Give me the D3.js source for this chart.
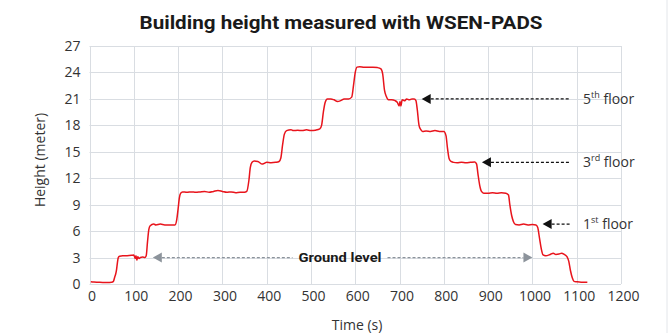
<!DOCTYPE html>
<html><head><meta charset="utf-8">
<script src="https://cdn.jsdelivr.net/npm/d3@7"></script>
<style>html,body{margin:0;padding:0;background:#fff;}svg{display:block;}</style>
</head><body>
<svg id="c" width="668" height="333"></svg>
<script>
const title = "Building height measured with WSEN-PADS";
const xTicks = [0,100,200,300,400,500,600,700,800,900,1000,1100,1200];
const yTicks = [0,3,6,9,12,15,18,21,24,27];
const timeS = [3,10,20,30,40,50,54,57,59,61,63,65,68,75,85,95,100,103,105,107,109,112,115,120,125,128,131,134,137,145,150,160,170,180,193,197,200,203,206,210,220,230,240,250,260,270,280,290,300,310,320,330,340,350,355,360,363,367,372,380,390,395,400,410,420,428,432,436,440,445,455,460,470,480,490,500,510,520,524,528,532,537,545,552,560,567,575,585,592,596,600,604,610,620,630,640,650,658,662,666,670,675,682,690,695,699,701,703,706,712,716,722,728,733,737,740,744,748,752,760,770,780,790,800,805,808,812,816,822,830,840,850,860,870,874,877,881,885,890,900,910,920,930,940,946,949,953,957,962,970,980,990,1000,1008,1012,1016,1020,1024,1030,1040,1047,1053,1060,1066,1072,1078,1082,1086,1090,1094,1100,1110,1124];
const heightM = [0.25,0.22,0.2,0.18,0.18,0.2,0.3,0.8,1.1,1.6,2.4,3.0,3.15,3.2,3.2,3.25,3.3,2.9,3.2,2.7,3.1,2.9,3.0,3.05,3.0,3.2,4.8,6.2,6.6,6.8,6.7,6.8,6.7,6.7,6.7,7.3,8.5,9.8,10.3,10.45,10.4,10.45,10.4,10.45,10.5,10.4,10.5,10.6,10.5,10.4,10.45,10.35,10.4,10.4,10.5,11.8,13.2,13.8,13.95,13.9,13.6,13.7,13.8,13.75,13.8,13.9,14.3,15.8,17.0,17.4,17.5,17.4,17.45,17.4,17.5,17.4,17.45,17.6,18.0,19.5,20.6,21.0,21.0,20.9,20.7,20.8,21.0,21.0,21.2,22.5,24.0,24.6,24.65,24.6,24.6,24.6,24.55,24.4,23.8,22.0,21.3,20.9,20.9,20.8,20.6,20.2,20.7,20.2,20.9,20.8,21.0,20.9,21.0,21.0,20.8,19.8,18.0,17.5,17.3,17.35,17.3,17.4,17.3,17.3,16.8,15.5,14.2,13.9,13.8,13.75,13.8,13.75,13.8,13.85,13.6,12.5,11.2,10.5,10.3,10.3,10.35,10.3,10.35,10.3,10.1,9.0,7.8,7.1,6.75,6.7,6.8,6.7,6.75,6.7,6.4,5.2,4.0,3.3,3.2,3.35,3.5,3.35,3.4,3.5,3.35,3.1,2.6,1.5,0.7,0.3,0.25,0.2,0.2];
const floorNums = ["5","3","1"];
const floorSups = ["th","rd","st"];
const floorTipT = [750,886,1023];
const floorH = [21,13.8,6.8];
const floorTailT = 1085;
const groundLabel = "Ground level";
const groundH = 3;
const groundTipsT = [143,1000];

const svg = d3.select("#c");
const m = {l:89.5, r:621, t:46, b:284};
const x = d3.scaleLinear().domain([0,1200]).range([m.l,m.r]);
const y = d3.scaleLinear().domain([0,27]).range([m.b,m.t]);
const font = "'Open Sans', sans-serif";

svg.append("line").attr("x1",667).attr("x2",667).attr("y1",0).attr("y2",333).attr("stroke","#e3e6ea").attr("stroke-width",1);

// grid
const g = svg.append("g");
g.selectAll(".vg").data(xTicks).join("line")
 .attr("x1",d=>Math.round(x(d))+0.5).attr("x2",d=>Math.round(x(d))+0.5)
 .attr("y1",m.t).attr("y2",m.b).attr("stroke","#d9dde2").attr("stroke-width",1);
g.selectAll(".hg").data(yTicks).join("line")
 .attr("y1",d=>Math.round(y(d))+0.5).attr("y2",d=>Math.round(y(d))+0.5)
 .attr("x1",m.l).attr("x2",m.r).attr("stroke","#d9dde2").attr("stroke-width",1);

// axes labels via d3 axes
const xa = svg.append("g").attr("transform",`translate(0,${m.b})`)
 .call(d3.axisBottom(x).tickValues(xTicks).tickFormat(d3.format("d")).tickSize(0).tickPadding(7));
xa.select(".domain").remove();
xa.selectAll("text").attr("font-family",font).attr("font-size",14).attr("fill","#333").attr("dx",2);
const ya = svg.append("g").attr("transform",`translate(${m.l},0)`)
 .call(d3.axisLeft(y).tickValues(yTicks).tickFormat(d3.format("d")).tickSize(0).tickPadding(9));
ya.select(".domain").remove();
ya.selectAll("text").attr("font-family",font).attr("font-size",14).attr("fill","#333");

svg.append("text").attr("x",357).attr("y",330).attr("text-anchor","middle")
 .attr("font-family",font).attr("font-size",14).attr("fill","#333").text("Time (s)");
svg.append("text").attr("transform","translate(45,160) rotate(-90)").attr("text-anchor","middle")
 .attr("font-family",font).attr("font-size",14).attr("fill","#333").text("Height (meter)");

svg.append("text").attr("x",341).attr("y",29).attr("text-anchor","middle")
 .attr("font-family","Roboto, sans-serif").attr("font-weight","bold").attr("font-size",18.5)
 .attr("fill","#1a1a1a").attr("textLength",403).attr("lengthAdjust","spacingAndGlyphs").text(title);

// data line
const pts = timeS.map((t,i)=>[t,heightM[i]]);
svg.append("path").datum(pts)
 .attr("d",d3.line().x(d=>x(d[0])).y(d=>y(d[1])).curve(d3.curveMonotoneX))
 .attr("fill","none").attr("stroke","#e8141c").attr("stroke-width",1.5).attr("stroke-linejoin","round");

function arrowHead(tx,ty,dir,color){
  const L=9,H=5;
  svg.append("path").attr("d",`M${tx},${ty} L${tx+dir*L},${ty-H} L${tx+dir*L},${ty+H} Z`).attr("fill",color);
}
// floors
floorNums.forEach((n,i)=>{
  const ty = y(floorH[i]);
  const tx = x(floorTipT[i]);
  svg.append("line").attr("x1",tx+9).attr("x2",x(floorTailT)).attr("y1",ty).attr("y2",ty)
   .attr("stroke","#111").attr("stroke-width",1.3).attr("stroke-dasharray","3,2");
  arrowHead(tx,ty,1,"#111");
  const t = svg.append("text").attr("x",583).attr("y",ty+5).attr("font-family",font).attr("font-size",14).attr("fill","#333");
  t.append("tspan").text(n);
  t.append("tspan").attr("font-size",9).attr("dy",-6).text(floorSups[i]);
  t.append("tspan").attr("dy",6).text(" floor");
});
// ground level
const gy = y(groundH);
const gt = svg.append("text").attr("x",340).attr("y",gy+4.5).attr("text-anchor","middle")
 .attr("font-family","Roboto, sans-serif").attr("font-weight","bold").attr("font-size",13.5).attr("fill","#1a1a1a")
 .attr("textLength",83).attr("lengthAdjust","spacingAndGlyphs").text(groundLabel);
const gl = 340-41.5-6, gr = 340+41.5+6;
svg.append("line").attr("x1",x(groundTipsT[0])+9).attr("x2",gl).attr("y1",gy).attr("y2",gy)
 .attr("stroke","#8c939b").attr("stroke-width",1.2).attr("stroke-dasharray","3,2");
svg.append("line").attr("x1",gr).attr("x2",x(groundTipsT[1])-9).attr("y1",gy).attr("y2",gy)
 .attr("stroke","#8c939b").attr("stroke-width",1.2).attr("stroke-dasharray","3,2");
arrowHead(x(groundTipsT[0]),gy,1,"#8c939b");
arrowHead(x(groundTipsT[1]),gy,-1,"#8c939b");
</script>
</body></html>
